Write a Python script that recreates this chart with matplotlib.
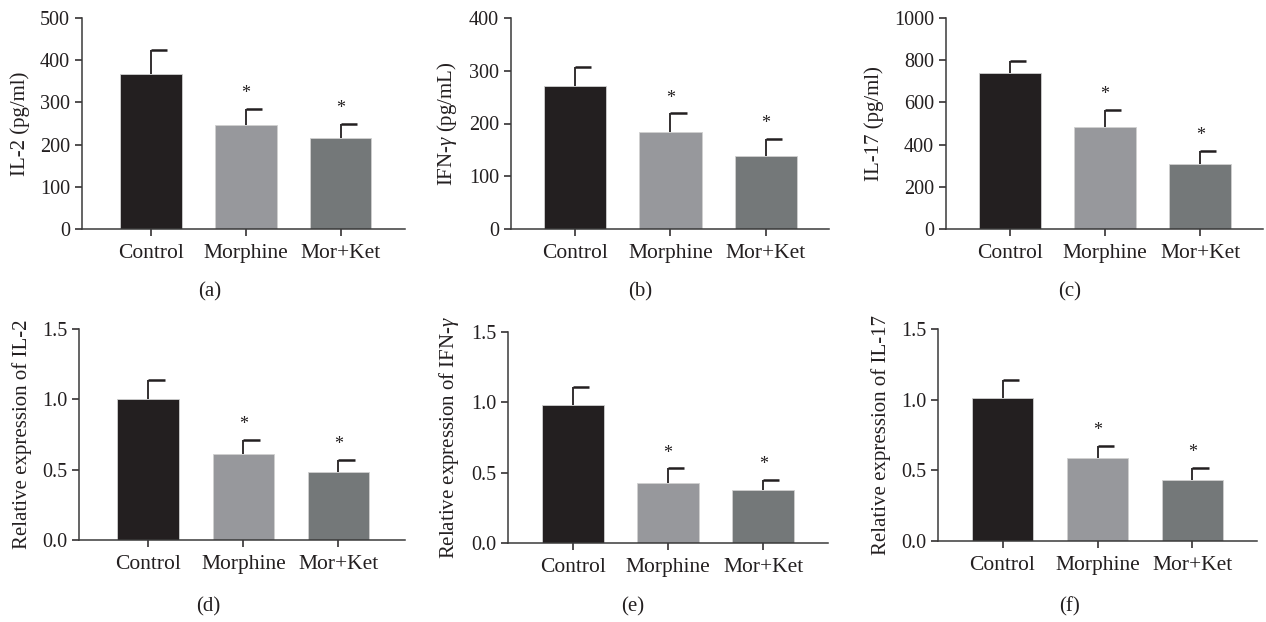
import matplotlib
matplotlib.use("Agg")
from matplotlib import pyplot as plt

plt.rcParams['font.family'] = ['Liberation Serif', 'DejaVu Serif']
plt.rcParams['mathtext.fontset'] = 'custom'
plt.rcParams['mathtext.rm'] = 'Liberation Serif'
plt.rcParams['mathtext.it'] = 'Liberation Serif:italic'

groups = ['Control', 'Morphine', 'Mor+Ket']
colors = ['#231f20', '#97989c', '#747879']

il2_pg = [367, 246, 216]
il2_pg_err = [58, 39, 34]
ifng_pg = [271, 184, 138]
ifng_pg_err = [37, 35, 32]
il17_pg = [740, 485, 306]
il17_pg_err = [58, 77, 62]

il2_rel = [1.00, 0.61, 0.48]
il2_rel_err = [0.14, 0.10, 0.09]
ifng_rel = [0.98, 0.43, 0.38]
ifng_rel_err = [0.13, 0.10, 0.07]
il17_rel = [1.01, 0.59, 0.43]
il17_rel_err = [0.13, 0.08, 0.09]

signif = [False, True, True]

panels = [
    # data, err, ylabel, ymax, ystep, tag, axes box (px: left, right, top, bottom), xlim
    (il2_pg, il2_pg_err, 'IL-2 (pg/ml)', 500, 100, '(a)', (82, 405, 18, 229), (-0.73, 2.68)),
    (ifng_pg, ifng_pg_err, r'IFN-$\mathit{\gamma}$ (pg/mL)', 400, 100, '(b)', (511, 829, 18, 229), (-0.67, 2.66)),
    (il17_pg, il17_pg_err, 'IL-17 (pg/ml)', 1000, 200, '(c)', (946, 1263, 18, 229), (-0.67, 2.66)),
    (il2_rel, il2_rel_err, 'Relative expression of IL-2', 1.5, 0.5, '(d)', (79, 405, 329, 540), (-0.73, 2.7)),
    (ifng_rel, ifng_rel_err, r'Relative expression of IFN-$\mathit{\gamma}$', 1.5, 0.5, '(e)', (508, 828, 332, 543), (-0.68, 2.68)),
    (il17_rel, il17_rel_err, 'Relative expression of IL-17', 1.5, 0.5, '(f)', (938, 1257, 329, 541), (-0.68, 2.68)),
]
tag_pos = [(210, 292), (640, 292), (1070, 292), (208, 607), (633, 607), (1070, 607)]

W, H = 1266, 622
fig = plt.figure(figsize=(W / 100, H / 100), dpi=100)

for (vals, errs, ylab, ymax, ystep, tag, box, xlim), (tx, ty) in zip(panels, tag_pos):
    l, r, t, b = box
    ax = fig.add_axes([l / W, 1 - b / H, (r - l) / W, (b - t) / H])
    x = list(range(len(groups)))
    ax.bar(x, vals, width=0.65, color=colors, edgecolor='#d0d0d0', linewidth=0.6, zorder=2)
    ax.errorbar(x, vals, yerr=[[0] * 3, errs], fmt='none', ecolor='#231f20',
                elinewidth=1.3, capsize=0, zorder=3)
    tops = [v + e for v, e in zip(vals, errs)]
    ax.hlines(tops, x, [xi + 0.17 for xi in x], colors='#231f20', linewidth=1.8, zorder=3)
    for xi, top, s in zip(x, tops, signif):
        if s:
            ax.annotate('*', xy=(xi, top), xytext=(0, 5), textcoords='offset points',
                        ha='center', va='bottom', fontsize=13, color='#231f20')
    ax.set_xlim(*xlim)
    ax.set_ylim(0, ymax)
    n = int(round(ymax / ystep))
    ticks = [i * ystep for i in range(n + 1)]
    ax.set_yticks(ticks)
    if ystep < 1:
        ax.set_yticklabels(['%.1f' % v for v in ticks])
    ax.set_xticks(x)
    ax.set_xticklabels(groups)
    ax.set_ylabel(ylab, fontsize=15, color='#231f20', labelpad=7)
    ax.tick_params(labelsize=14.5, colors='#231f20', length=5, width=1.1, direction='out')
    ax.tick_params(axis='x', labelsize=15.5, pad=6)
    for side in ['top', 'right']:
        ax.spines[side].set_visible(False)
    for side in ['left', 'bottom']:
        ax.spines[side].set_color('#3a3a3a')
        ax.spines[side].set_linewidth(1.1)
    fig.text(tx / W, 1 - ty / H, tag, ha='center', va='center', fontsize=15, color='#231f20')

plt.savefig('out.png', dpi=100)
